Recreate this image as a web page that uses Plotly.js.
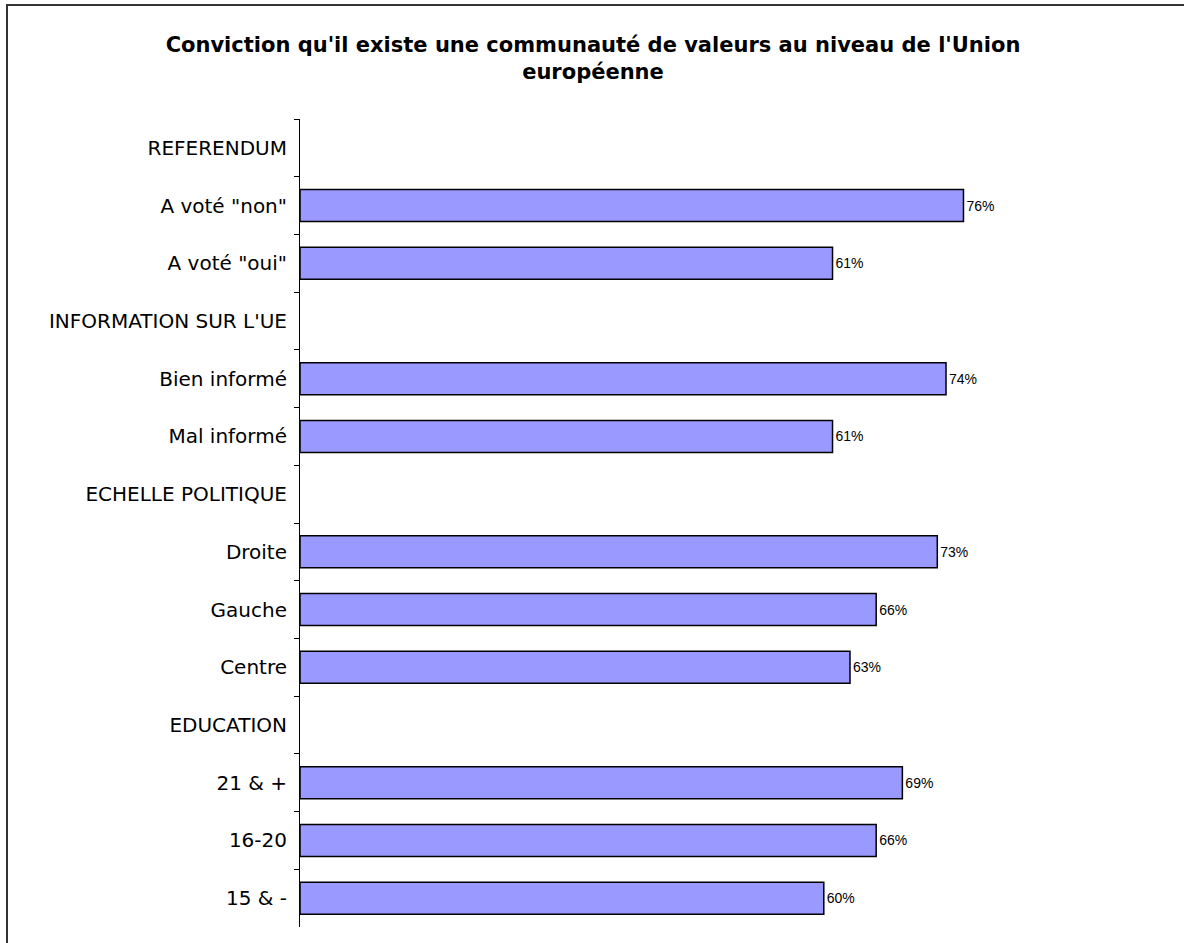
<!DOCTYPE html>
<html>
<head>
<meta charset="utf-8">
<script src="https://cdn.plot.ly/plotly-3.0.1.min.js"></script>
<style>
  html, body { margin: 0; padding: 0; background: #fff; }
  #chart { width: 1184px; height: 943px; }
</style>
</head>
<body>
<div id="chart"></div>
<script>
const categories = [
  'REFERENDUM',
  'A voté "non"',
  'A voté "oui"',
  "INFORMATION SUR L'UE",
  'Bien informé',
  'Mal informé',
  'ECHELLE POLITIQUE',
  'Droite',
  'Gauche',
  'Centre',
  'EDUCATION',
  '21 & +',
  '16-20',
  '15 & -'
];
const values = [null, 76, 61, null, 74, 61, null, 73, 66, 63, null, 69, 66, 60];
const titleText = "Conviction qu'il existe une communauté de valeurs au niveau de l'Union<br>européenne";

const labels = values.map(v => (v === null ? '' : v + '%'));

const trace = {
  type: 'bar',
  orientation: 'h',
  y: categories,
  x: values,
  text: labels,
  textposition: 'outside',
  cliponaxis: false,
  textfont: { family: 'Liberation Sans, Arial, sans-serif', size: 14, color: '#000' },
  marker: { color: '#9999FF', line: { color: '#000', width: 1.5 } },
  hoverinfo: 'skip'
};

const layout = {
  width: 1184,
  height: 943,
  paper_bgcolor: '#fff',
  plot_bgcolor: '#fff',
  margin: { l: 300, r: 11, t: 119, b: 16, pad: 0 },
  showlegend: false,
  bargap: 0.445,
  title: {
    text: titleText,
    font: { family: 'DejaVu Sans, Verdana, sans-serif', size: 21, color: '#000', weight: 'bold' },
    x: 593 / 1184, xref: 'container', xanchor: 'center',
    y: 1 - 52 / 943, yref: 'container', yanchor: 'middle'
  },
  xaxis: {
    range: [0, 100],
    visible: false,
    showgrid: false,
    zeroline: false,
    fixedrange: true
  },
  yaxis: {
    type: 'category',
    autorange: 'reversed',
    showline: true,
    linecolor: '#000',
    linewidth: 1,
    ticks: 'outside',
    tickson: 'boundaries',
    ticklen: 5,
    tickwidth: 1,
    tickcolor: '#000',
    ticklabelstandoff: 8,
    showgrid: false,
    zeroline: false,
    tickfont: { family: 'DejaVu Sans, Verdana, sans-serif', size: 20, color: '#000' },
    fixedrange: true
  },
  shapes: [{
    type: 'rect',
    xref: 'paper', yref: 'paper',
    x0: (7 - 300) / 873, x1: 1.05,
    y0: -0.05, y1: 1 + (119 - 5) / 808,
    line: { color: '#333', width: 2 },
    fillcolor: 'rgba(0,0,0,0)',
    layer: 'above'
  }]
};

Plotly.newPlot('chart', [trace], layout, { displayModeBar: false, staticPlot: true });
</script>
</body>
</html>
